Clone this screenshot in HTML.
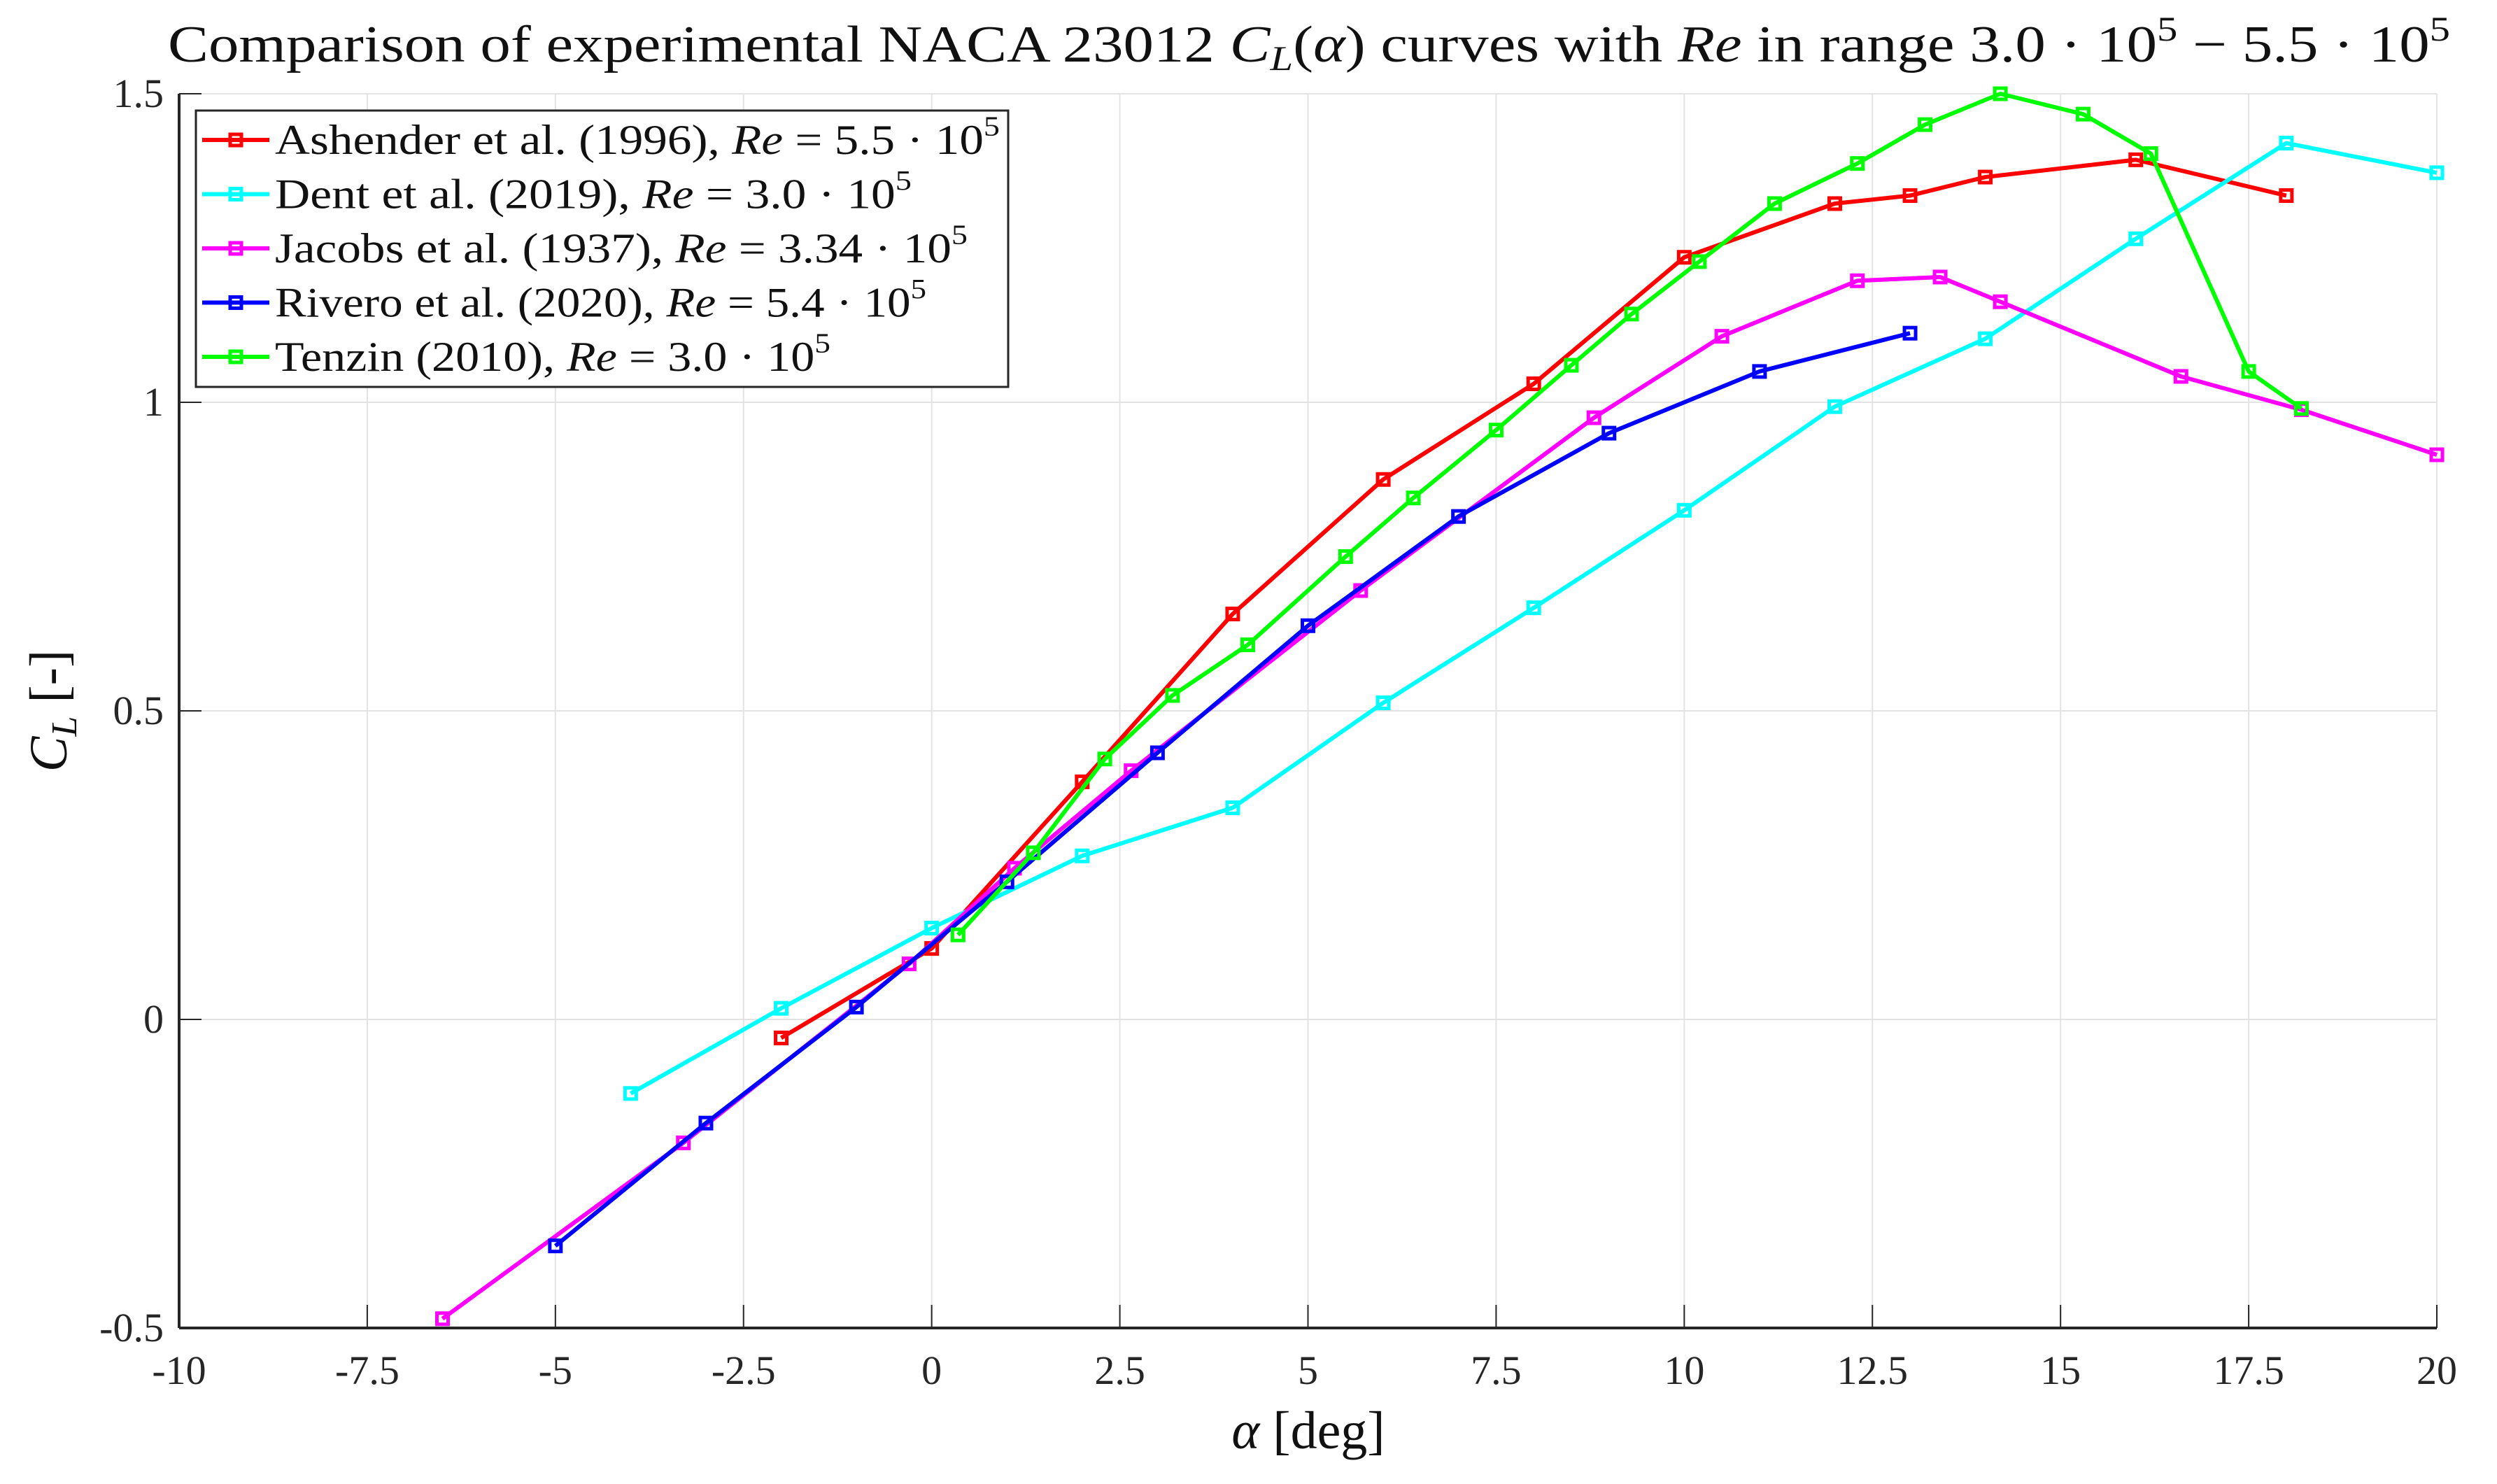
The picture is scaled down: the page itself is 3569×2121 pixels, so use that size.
<!DOCTYPE html>
<html><head><meta charset="utf-8"><style>
html,body{margin:0;padding:0;background:#fff;}
svg{display:block;font-family:"Liberation Serif",serif;}
</style></head><body>
<svg id="chart" width="3569" height="2121" viewBox="0 0 3569 2121" xmlns="http://www.w3.org/2000/svg">
<text x="240" y="88" font-size="74" textLength="3262" lengthAdjust="spacingAndGlyphs" fill="#111">Comparison of experimental NACA 23012 <tspan font-style="italic">C</tspan><tspan font-style="italic" font-size="50" dy="12">L</tspan><tspan dy="-12">(</tspan><tspan font-style="italic">α</tspan>) curves with <tspan font-style="italic">Re</tspan> in range 3.0 · 10<tspan font-size="50" dy="-30">5</tspan><tspan dy="30"> − 5.5 · 10</tspan><tspan font-size="50" dy="-30">5</tspan></text>
<g id="grid"></g>
<g id="series"></g>
<g id="axes"></g>
<text x="1870" y="2070" font-size="76" text-anchor="middle" fill="#111"><tspan font-style="italic">α</tspan> [deg]</text>
<text transform="translate(95,1016) rotate(-90)" font-size="76" text-anchor="middle" fill="#111"><tspan font-style="italic">C</tspan><tspan font-style="italic" font-size="52" dy="14">L</tspan><tspan dy="-14"> [-]</tspan></text>
<g id="legend"></g>
</svg>
<script>
const xTicks=[-10,-7.5,-5,-2.5,0,2.5,5,7.5,10,12.5,15,17.5,20];
const xTickLabels=["-10","-7.5","-5","-2.5","0","2.5","5","7.5","10","12.5","15","17.5","20"];
const yTicks=[-0.5,0,0.5,1,1.5];
const yTickLabels=["-0.5","0","0.5","1","1.5"];
const seriesNames=["Ashender et al. (1996), ","Dent et al. (2019), ","Jacobs et al. (1937), ","Rivero et al. (2020), ","Tenzin (2010), "];
const seriesRe=["5.5","3.0","3.34","5.4","3.0"];
const seriesColors=["#ff0000","#00ffff","#ff00ff","#0000ff","#00ff00"];
const ashenderX=[-2,0,2,4,6,8,10,12,13,14,16,18];
const ashenderY=[-0.03,0.115,0.385,0.657,0.875,1.03,1.235,1.322,1.335,1.365,1.393,1.335];
const dentX=[-4,-2,0,2,4,6,8,10,12,14,16,18,20];
const dentY=[-0.12,0.018,0.148,0.265,0.343,0.513,0.667,0.825,0.993,1.103,1.265,1.42,1.372];
const jacobsX=[-6.5,-3.3,-0.3,1.1,2.65,5.7,8.8,10.5,12.3,13.4,14.2,16.6,18.2,20];
const jacobsY=[-0.485,-0.2,0.09,0.245,0.403,0.695,0.975,1.107,1.197,1.203,1.163,1.042,0.988,0.915];
const riveroX=[-5,-3,-1,1,3,5,7,9,11,13];
const riveroY=[-0.367,-0.168,0.02,0.223,0.432,0.638,0.815,0.95,1.05,1.112];
const tenzinX=[0.35,1.35,2.3,3.2,4.2,5.5,6.4,7.5,8.5,9.3,10.2,11.2,12.3,13.2,14.2,15.3,16.2,17.5,18.2];
const tenzinY=[0.137,0.27,0.422,0.525,0.607,0.75,0.845,0.955,1.06,1.143,1.228,1.322,1.387,1.45,1.5,1.467,1.403,1.05,0.99];

const NS="http://www.w3.org/2000/svg";
const L=256,R=3483,T=134,B=1898,xmin=-10,xmax=20,ymin=-0.5,ymax=1.5;
function sx(v){return L+(v-xmin)/(xmax-xmin)*(R-L);}
function sy(v){return B-(v-ymin)/(ymax-ymin)*(B-T);}
function mk(tag,attrs,parent){const e=document.createElementNS(NS,tag);for(const k in attrs)e.setAttribute(k,attrs[k]);parent.appendChild(e);return e;}
const grid=document.getElementById('grid'),axes=document.getElementById('axes'),ser=document.getElementById('series'),leg=document.getElementById('legend');
xTicks.forEach((t,i)=>{
  const g=mk('line',{x1:sx(t),x2:sx(t),y1:T,y2:B,stroke:'#e3e3e3','stroke-width':2},grid);
  
  
  const tk=mk('line',{x1:sx(t),x2:sx(t),y1:B,y2:B-33,stroke:'#262626','stroke-width':2},axes);
  
  
  const tx=mk('text',{x:sx(t),y:B+80,'font-size':58,'text-anchor':'middle',fill:'#262626'},axes);
  tx.textContent=xTickLabels[i];
  
  
});
yTicks.forEach((t,i)=>{
  const g=mk('line',{x1:L,x2:R,y1:sy(t),y2:sy(t),stroke:'#e3e3e3','stroke-width':2},grid);
  
  
  const tk=mk('line',{x1:L,x2:L+32,y1:sy(t),y2:sy(t),stroke:'#262626','stroke-width':2},axes);
  
  
  const tx=mk('text',{x:L-22,y:sy(t)+19,'font-size':58,'text-anchor':'end',fill:'#262626'},axes);
  tx.textContent=yTickLabels[i];
  
  
});
const xa=mk('line',{x1:L,x2:R,y1:B,y2:B,stroke:'#262626','stroke-width':4},axes);


const ya=mk('line',{x1:L,x2:L,y1:T,y2:B,stroke:'#262626','stroke-width':4},axes);


const allX=[ashenderX,dentX,jacobsX,riveroX,tenzinX],allY=[ashenderY,dentY,jacobsY,riveroY,tenzinY];
const keys=['ashender','dent','jacobs','rivero','tenzin'];
allX.forEach((xs,s)=>{
  const c=seriesColors[s];
  const p=mk('polyline',{points:xs.map((x,i)=>sx(x)+','+sy(allY[s][i])).join(' '),fill:'none',stroke:c,'stroke-width':6,'stroke-linejoin':'round'},ser);
  
  
  xs.forEach((x,i)=>{
    const r=mk('rect',{x:sx(x)-8,y:sy(allY[s][i])-8,width:16,height:16,fill:'none',stroke:c,'stroke-width':5},ser);
    
    
  });
});
const box=mk('rect',{x:280,y:158,width:1161,height:395,fill:'#fff',stroke:'#262626','stroke-width':3},leg);


const legWidths=[1036,910,990,931,794];
seriesNames.forEach((n,s)=>{
  const y=200+s*77.5;
  const g=mk('g',{},leg);
  
  
  mk('line',{x1:289,x2:385,y1:y,y2:y,stroke:seriesColors[s],'stroke-width':6},g);
  mk('rect',{x:329,y:y-8,width:16,height:16,fill:'none',stroke:seriesColors[s],'stroke-width':5},g);
  const t=mk('text',{x:393,y:y+20,'font-size':60,fill:'#111',textLength:legWidths[s],lengthAdjust:'spacingAndGlyphs'},g);
  t.innerHTML=n+'<tspan font-style="italic">Re</tspan> = '+seriesRe[s]+' · 10<tspan font-size="40" dy="-26">5</tspan>';
});
</script>
</body></html>
